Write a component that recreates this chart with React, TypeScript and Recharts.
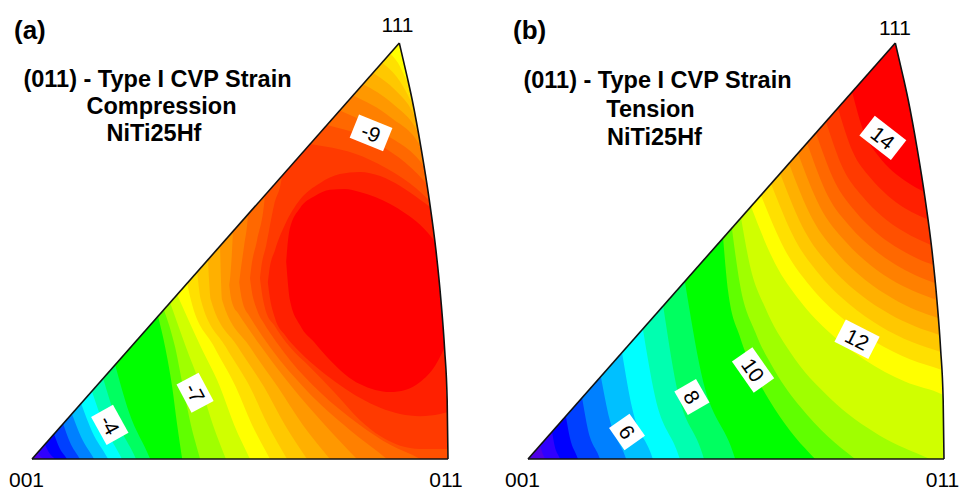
import React from 'react';
import { ComposedChart, Area, Line, Scatter, XAxis, YAxis } from 'recharts';

type Pt = [number, number, number]; // [u, lower v, upper v] in IPF units ([001]-[011] = 100)

const FONT = '"Liberation Sans", Arial, Helvetica, sans-serif';

// contour level colours, lowest (index 0) to highest (index 23)
const PALETTE = [
  '#5000e6', '#3000ff', '#0000ff', '#0040ff', '#0080ff', '#00c0ff', '#00ffff', '#00ffb0',
  '#00ff60', '#00ff00', '#60ff00', '#a0ff00', '#d0ff00', '#ffff00', '#ffe000', '#ffc800',
  '#ffb000', '#ff9800', '#ff8000', '#ff6800', '#ff5000', '#ff3a00', '#ff2000', '#ff0000',
];

// ---------- panel (a): compression ----------
const ringsA: Pt[][] = [
  [[1.4, 1.6, 100], [1.9, 0.7, 100], [3.1, 0, 100], [8.4, -5, 100], [100, -5, 100]],
  [[3.1, 3.5, 100], [4.0, 1.7, 100], [5.5, 0, 100], [8.9, -5, 100], [100, -5, 100]],
  [[5.3, 6.0, 100], [6.5, 2.9, 100], [8.4, 0, 100], [11.0, -5, 100], [100, -5, 100]],
  [[7.5, 8.5, 100], [9.1, 4.1, 100], [11.5, 0, 100], [13.9, -5, 100], [100, -5, 100]],
  [[9.6, 10.9, 100], [11.8, 5.3, 100], [14.9, 0, 100], [17.3, -5, 100], [100, -5, 100]],
  [[11.8, 13.4, 100], [14.4, 6.7, 100], [18.3, 0, 100], [20.7, -5, 100], [100, -5, 100]],
  [[14.4, 16.3, 100], [17.3, 8.2, 100], [21.6, 0, 100], [23.8, -5, 100], [100, -5, 100]],
  [[17.1, 19.4, 100], [20.2, 9.6, 100], [25.0, 0, 100], [27.0, -5, 100], [100, -5, 100]],
  [[20.0, 22.6, 100], [23.3, 11.3, 100], [28.4, 0, 100], [30.3, -5, 100], [100, -5, 100]],
  [[30.3, 34.3, 100], [32.0, 26.9, 100], [33.7, 17.3, 100], [34.9, 8.2, 100], [36.1, 0, 100], [36.8, -5, 100], [100, -5, 100]],
  [[31.7, 35.9, 100], [34.4, 26.9, 100], [36.3, 17.3, 100], [38.2, 8.2, 100], [40.4, 0, 100], [41.7, -5, 100], [100, -5, 100]],
  [[33.2, 37.6, 100], [37.0, 26.9, 100], [40.6, 17.3, 100], [43.5, 8.2, 100], [46.6, 0, 100], [48.5, -5, 100], [100, -5, 100]],
  [[34.9, 39.5, 100], [40.6, 26.9, 100], [45.2, 17.3, 100], [48.6, 8.2, 100], [52.4, 0, 100], [54.7, -5, 100], [100, -5, 100]],
  [[37.3, 42.2, 100], [38.2, 38.2, 100], [43.8, 26.9, 100], [49.0, 17.3, 100], [52.9, 8.2, 100], [57.2, 0, 100], [59.8, -5, 100], [100, -5, 100]],
  [[39.7, 45.0, 100], [40.6, 38.2, 100], [46.6, 26.9, 100], [52.4, 17.3, 100], [56.7, 8.2, 100], [61.3, 0, 100], [64.1, -5, 100], [100, -5, 100]],
  [[42.3, 47.9, 100], [43.0, 38.2, 100], [49.5, 26.9, 100], [55.8, 17.3, 100], [60.8, 8.2, 100], [66.1, 0, 100], [69.3, -5, 100], [100, -5, 100]],
  [[45.2, 51.2, 100], [45.7, 38.2, 100], [52.4, 26.9, 100], [59.1, 17.3, 100], [65.1, 8.2, 100], [71.6, 0, 100], [75.6, -5, 100], [100, -5, 100]],
  [[47.4, 41.8, 41.8], [47.65, 39.8, 43.9], [48.3, 37.0, 54.7], [49.5, 35.1, 100], [54.8, 27.4, 100], [62.5, 17.3, 100], [70.4, 8.2, 100], [78.1, 0, 100], [82.8, -5, 100], [100, -5, 100]],
  [[49.8, 42.5, 42.5], [50.1, 40.3, 44.9], [51.0, 36.5, 51.4], [51.9, 34.9, 58.8], [53.4, 32.5, 100], [57.2, 26.9, 100], [65.9, 16.6, 100], [76.4, 7.0, 100], [85.3, 0, 100], [90.7, -5, 100], [100, -5, 100]],
  [[52.4, 43.5, 43.5], [52.7, 41.2, 46.0], [54.1, 35.8, 52.6], [56.0, 32.2, 63.4], [57.7, 29.6, 100], [62.0, 23.8, 100], [69.2, 16.1, 100], [78.8, 8.2, 100], [86.1, 3.4, 100], [93.3, 0, 100], [100, -4.3, 100]],
  [[54.8, 43.5, 43.5], [55.1, 41.1, 46.0], [56.3, 35.3, 51.4], [58.2, 32.2, 61.1], [60.1, 29.3, 68.0], [62.0, 26.9, 100], [66.8, 22.1, 100], [72.6, 16.1, 100], [78.8, 9.4, 100], [83.7, 5.5, 100], [93.3, 2.4, 100], [100, 2.4, 100]],
];

// regions near [111] that fall back below levels 21..14
const tipsA: Pt[][] = [
  [[66.8, 75.7, 100], [81.3, 71.9, 100], [96.4, 61.1, 100], [98.1, 59.1, 100]],
  [[70.9, 80.3, 100], [83.7, 75.5, 100], [95.7, 65.1, 100], [96.9, 63.5, 100]],
  [[74.0, 83.8, 100], [84.9, 78.1, 100], [94.7, 69.5, 100], [95.7, 67.8, 100]],
  [[77.2, 87.4, 100], [86.1, 82.2, 100], [93.8, 74.3, 100], [94.5, 72.8, 100]],
  [[79.6, 90.1, 100], [86.5, 85.6, 100], [92.8, 78.6, 100], [93.5, 77.2, 100]],
  [[82.0, 92.8, 100], [87.3, 88.7, 100], [91.6, 83.2, 100], [92.3, 81.7, 100]],
  [[84.1, 95.3, 100], [87.7, 91.8, 100], [90.6, 87.0, 100], [91.3, 85.6, 100]],
  [[86.1, 97.5, 100], [88.0, 95.2, 100], [89.7, 91.8, 100], [90.4, 90.4, 100]],
];

const ring22A: Pt[] = [
  [56.7, 42.5, 42.5], [57.0, 40.0, 45.0], [58.4, 33.9, 50.2], [60.8, 29.8, 56.3], [64.4, 25.7, 62.3],
  [69.2, 21.4, 66.3], [74.0, 17.8, 68.5], [78.8, 14.7, 69.0], [83.7, 12.3, 68.0], [88.5, 10.8, 65.6],
  [93.3, 10.3, 62.3], [98.1, 10.8, 58.7], [100, 11.3, 57.0],
];

const coreA: Pt[] = [
  [61.1, 47.4, 47.4], [61.35, 44.2, 50.6], [62.0, 38.2, 55.5], [64.4, 32.2, 60.3], [68.0, 27.9, 63.2],
  [71.6, 23.8, 64.7], [75.2, 20.4, 64.9], [78.8, 18.0, 64.2], [82.5, 16.6, 63.0], [86.1, 16.1, 61.3],
  [89.7, 16.6, 59.1], [93.3, 18.5, 56.3], [96.9, 22.4, 52.2], [100, 28.6, 47.4],
];

const labelsA = [
  { u: 18.7, v: 8.2, text: '-4', angle: 61, w: 32 },
  { u: 39.2, v: 15.9, text: '-7', angle: 62, w: 32 },
  { u: 81.5, v: 78.4, text: '-9', angle: 22, w: 36 },
];

// ---------- panel (b): tension ----------
const ringsB: Pt[][] = [
  [[2.9, 3.3, 100], [3.4, 1.6, 100], [4.1, 0, 100], [5.9, -5, 100], [100, -5, 100]],
  [[5.8, 6.5, 100], [6.4, 3.2, 100], [7.7, 0, 100], [9.2, -5, 100], [100, -5, 100]],
  [[9.1, 10.3, 100], [10.1, 5.0, 100], [12.0, 0, 100], [13.4, -5, 100], [100, -5, 100]],
  [[13.0, 14.7, 100], [14.4, 7.1, 100], [17.3, 0, 100], [18.8, -5, 100], [100, -5, 100]],
  [[17.5, 19.9, 100], [19.6, 9.6, 100], [23.6, 0, 100], [25.1, -5, 100], [100, -5, 100]],
  [[22.6, 25.6, 100], [25.0, 12.4, 100], [30.0, 0, 100], [31.4, -5, 100], [100, -5, 100]],
  [[27.6, 31.3, 100], [30.5, 15.2, 100], [36.5, 0, 100], [37.9, -5, 100], [100, -5, 100]],
  [[32.5, 36.8, 100], [35.6, 17.9, 100], [42.3, 0, 100], [43.6, -5, 100], [100, -5, 100]],
  [[37.7, 42.7, 100], [41.6, 20.8, 100], [49.8, 0, 100], [51.2, -5, 100], [100, -5, 100]],
  [[46.9, 53.1, 100], [48.1, 40.3, 100], [51.0, 29.2, 100], [54.6, 20.4, 100], [59.4, 11.9, 100], [64.2, 5.3, 100], [69.0, 0, 100], [73.5, -5, 100], [100, -5, 100]],
  [[49.0, 55.5, 100], [51.0, 41.7, 100], [54.6, 30.6, 100], [59.4, 21.1, 100], [65.4, 12.6, 100], [72.1, 5.4, 100], [78.6, 0, 100], [84.6, -5, 100], [100, -5, 100]],
  [[51.2, 58.0, 100], [53.4, 46.3, 100], [57.0, 36.4, 100], [63.0, 25.7, 100], [72.6, 14.6, 100], [84.6, 5.6, 100], [96.6, 0, 100], [100, -1.6, 100]],
  [[53.6, 60.7, 100], [59.4, 47.0, 100], [65.4, 38.0, 100], [72.6, 30.3, 100], [81.0, 23.8, 100], [90.6, 18.6, 100], [99.8, 15.4, 100], [100, 15.3, 100]],
  [[56.0, 63.4, 100], [61.8, 50.2, 100], [67.8, 41.6, 100], [75.0, 34.3, 100], [83.4, 28.2, 100], [91.8, 24.0, 100], [99.5, 21.4, 100], [100, 21.2, 100]],
  [[58.4, 66.2, 100], [64.2, 52.7, 100], [70.2, 44.2, 100], [77.4, 37.1, 100], [84.6, 32.0, 100], [92.3, 28.1, 100], [99.2, 25.7, 100], [100, 25.4, 100]],
  [[60.6, 68.6, 100], [66.6, 54.6, 100], [72.6, 46.4, 100], [79.8, 39.6, 100], [87.0, 34.8, 100], [93.0, 31.9, 100], [98.9, 29.8, 100], [100, 29.4, 100]],
  [[62.7, 71.1, 100], [68.3, 57.8, 100], [74.3, 49.5, 100], [81.0, 43.1, 100], [87.7, 38.6, 100], [93.5, 35.7, 100], [98.6, 33.9, 100], [100, 33.4, 100]],
  [[64.9, 73.5, 100], [70.2, 60.6, 100], [76.2, 52.4, 100], [82.2, 46.7, 100], [88.7, 42.3, 100], [93.8, 39.9, 100], [98.2, 38.2, 100], [100, 37.5, 100]],
  [[67.1, 75.9, 100], [72.1, 63.2, 100], [77.4, 55.9, 100], [83.4, 50.2, 100], [89.4, 46.1, 100], [94.2, 43.7, 100], [97.8, 42.3, 100], [100, 41.4, 100]],
  [[69.2, 78.4, 100], [73.8, 66.5, 100], [78.6, 59.6, 100], [84.1, 54.1, 100], [89.4, 50.4, 100], [93.8, 48.1, 100], [97.5, 46.6, 100], [100, 45.4, 100]],
  [[71.6, 81.2, 100], [75.7, 69.9, 100], [80.3, 63.2, 100], [85.3, 58.2, 100], [90.1, 54.8, 100], [93.8, 52.8, 100], [97.0, 51.4, 100], [100, 49.8, 100]],
  [[74.5, 84.4, 100], [78.1, 73.8, 100], [82.2, 67.7, 100], [86.5, 63.3, 100], [90.6, 60.3, 100], [93.8, 58.6, 100], [96.3, 57.5, 100], [100, 55.5, 100]],
  [[77.9, 88.3, 100], [80.8, 78.4, 100], [84.1, 73.0, 100], [87.7, 69.1, 100], [90.9, 66.7, 100], [93.3, 65.2, 100], [95.2, 64.2, 100], [100, 61.0, 100]],
];

const labelsB = [
  { u: 23.8, v: 6.5, text: '6', angle: 55, w: 27 },
  { u: 39.4, v: 14.9, text: '8', angle: 60, w: 27 },
  { u: 54.1, v: 21.4, text: '10', angle: 55, w: 38 },
  { u: 79.1, v: 28.8, text: '12', angle: 27, w: 38 },
  { u: 85.3, v: 77.2, text: '14', angle: 38, w: 40 },
];

// ---------- standard triangle frame ----------
const hypEdge: [number, number][] = [[0, 0], [88.3, 100]];
const bottomEdge: [number, number][] = [[0, 0], [100, 0]];
const arcEdge: [number, number][] = [
  [88.3, 100], [90.2, 91.8], [91.4, 86.3], [93.6, 74.3], [95.5, 62.3],
  [97.1, 50.2], [98.3, 38.2], [99.2, 26.2], [99.8, 14.2], [100, 0],
];

const baseFill: Pt[] = [[0, 0, 100], [100, 0, 100]];
const maskHyp: Pt[] = [[0, 0, 101], [88.3, 100, 101]];
const maskArc: Pt[] = [...arcEdge.map(([u, v]) => [u, v, 101] as Pt), [101, 0, 101]];
const maskBottom: Pt[] = [[-1, -6, 0], [101, -6, 0]];

type Layer = { pts: Pt[]; color: string; linear?: boolean };

const toRows = (pts: Pt[]) => pts.map(([u, lo, hi]) => ({ u, r: [lo, hi] }));
const toLine = (pts: [number, number][]) => pts.map(([u, v]) => ({ u, v }));

const layersA: Layer[] = [
  { pts: baseFill, color: PALETTE[0], linear: true },
  ...ringsA.map((pts, i) => ({ pts, color: PALETTE[i + 1] })),
  ...tipsA.map((pts, i) => ({ pts, color: PALETTE[20 - i] })),
  { pts: ring22A, color: PALETTE[22] },
  { pts: coreA, color: PALETTE[23] },
];

const layersB: Layer[] = [
  { pts: baseFill, color: PALETTE[0], linear: true },
  ...ringsB.map((pts, i) => ({ pts, color: PALETTE[i + 1] })),
];

const masks: Layer[] = [
  { pts: maskHyp, color: '#ffffff', linear: true },
  { pts: maskArc, color: '#ffffff' },
  { pts: maskBottom, color: '#ffffff', linear: true },
];

function LabelShape(props: any) {
  const { cx, cy, payload } = props;
  if (cx == null || cy == null || !payload) return <g />;
  const { text, angle, w } = payload;
  return (
    <g transform={`translate(${cx},${cy}) rotate(${angle})`}>
      <rect x={-w / 2} y={-12.5} width={w} height={25} fill="#ffffff" />
      <text x={0} y={0} dy="0.36em" textAnchor="middle" fontSize={21} fontFamily={FONT} fill="#000">
        {text}
      </text>
    </g>
  );
}

function Panel({ left, layers, labels }: { left: number; layers: Layer[]; labels: any[] }) {
  const all = [...layers, ...masks];
  return (
    <div style={{ position: 'absolute', left, top: 0 }}>
      <ComposedChart width={480} height={490} margin={{ top: 38.84, right: 27.84, bottom: 6.04, left: 27.84 }}>
        <XAxis type="number" dataKey="u" domain={[-1, 101]} hide allowDataOverflow />
        <YAxis type="number" domain={[-6, 101]} hide allowDataOverflow />
        {all.map((L, i) => (
          <Area
            key={`area-${i}`}
            data={toRows(L.pts)}
            dataKey="r"
            type={L.linear ? 'linear' : 'monotone'}
            fill={L.color}
            fillOpacity={1}
            stroke="none"
            dot={false}
            activeDot={false}
            isAnimationActive={false}
          />
        ))}
        <Line data={toLine(hypEdge)} dataKey="v" type="linear" stroke="#111" strokeWidth={1.6} dot={false} activeDot={false} isAnimationActive={false} />
        <Line data={toLine(bottomEdge)} dataKey="v" type="linear" stroke="#111" strokeWidth={1.6} dot={false} activeDot={false} isAnimationActive={false} />
        <Line data={toLine(arcEdge)} dataKey="v" type="monotone" stroke="#111" strokeWidth={1.6} dot={false} activeDot={false} isAnimationActive={false} />
        <Scatter data={labels} dataKey="v" shape={LabelShape} isAnimationActive={false} />
      </ComposedChart>
    </div>
  );
}

const titleTexts = [
  { x: 14, y: 39, text: '(a)', size: 26, anchor: 'start' },
  { x: 157.5, y: 87, text: '(011) - Type I CVP Strain', size: 23.5, anchor: 'middle' },
  { x: 161.5, y: 114, text: 'Compression', size: 23.5, anchor: 'middle' },
  { x: 154, y: 141, text: 'NiTi25Hf', size: 23.5, anchor: 'middle' },
  { x: 513, y: 39, text: '(b)', size: 26, anchor: 'start' },
  { x: 657.5, y: 88, text: '(011) - Type I CVP Strain', size: 23.5, anchor: 'middle' },
  { x: 650.5, y: 117, text: 'Tension', size: 23.5, anchor: 'middle' },
  { x: 654.5, y: 145, text: 'NiTi25Hf', size: 23.5, anchor: 'middle' },
];

const poleTexts = [
  { x: 26.5, y: 487, text: '001' },
  { x: 446, y: 487, text: '011' },
  { x: 397.5, y: 31.5, text: '111' },
  { x: 522.5, y: 487, text: '001' },
  { x: 942.5, y: 487, text: '011' },
  { x: 895, y: 35, text: '111' },
];

export default function App() {
  return (
    <div style={{ position: 'absolute', left: 0, top: 0, width: 963, height: 490, background: '#fff', overflow: 'hidden' }}>
      <Panel left={0} layers={layersA} labels={labelsA} />
      <Panel left={496} layers={layersB} labels={labelsB} />
      <svg width={963} height={490} style={{ position: 'absolute', left: 0, top: 0, pointerEvents: 'none' }}>
        {titleTexts.map((t, i) => (
          <text key={`t${i}`} x={t.x} y={t.y} fontSize={t.size} fontWeight="bold" fontFamily={FONT} textAnchor={t.anchor as any} fill="#000">
            {t.text}
          </text>
        ))}
        {poleTexts.map((t, i) => (
          <text key={`p${i}`} x={t.x} y={t.y} fontSize={21} fontFamily={FONT} textAnchor="middle" fill="#000">
            {t.text}
          </text>
        ))}
      </svg>
    </div>
  );
}
